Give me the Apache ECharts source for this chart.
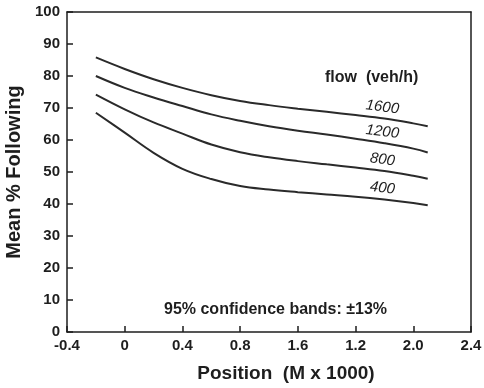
<!DOCTYPE html>
<html>
<head>
<meta charset="utf-8">
<script src="https://cdn.jsdelivr.net/npm/echarts@6/dist/echarts.min.js"></script>
<style>html,body{margin:0;padding:0;background:#fff}#c{width:484px;height:388px}</style>
</head>
<body>
<div id="c"></div>
<script>
const positions = [-0.2, 0, 0.2, 0.4, 0.6, 0.8, 1.0, 1.2, 1.4, 1.6, 1.8, 2.0, 2.1];
const flow1600 = [85.8, 82.2, 79.0, 76.3, 74.0, 72.2, 70.9, 69.8, 68.8, 67.8, 66.7, 65.2, 64.3];
const flow1200 = [80.0, 76.3, 73.3, 70.6, 68.0, 66.0, 64.3, 62.9, 61.7, 60.4, 59.0, 57.3, 56.1];
const flow800  = [74.2, 69.6, 65.5, 62.0, 58.6, 56.2, 54.6, 53.4, 52.4, 51.4, 50.3, 48.8, 47.9];
const flow400  = [68.5, 62.3, 56.0, 51.0, 47.8, 45.6, 44.5, 43.7, 43.0, 42.3, 41.4, 40.3, 39.6];
const seriesNames = ['1600', '1200', '800', '400'];
const xTickLabels = ['-0.4', '0', '0.4', '0.8', '1.6', '1.2', '2.0', '2.4'];
const yTickLabels = ['0', '10', '20', '30', '40', '50', '60', '70', '80', '90', '100'];
const labelAt = 1.8;

const FONT = '"Liberation Sans", Arial, Helvetica, sans-serif';
const INK = '#1e1e1e';

function mk(name, vals) {
  return {
    name: name,
    type: 'line',
    smooth: 0.4,
    symbol: 'circle',
    symbolSize: 1,
    showSymbol: true,
    lineStyle: { color: '#2a2a2a', width: 2 },
    itemStyle: { color: 'rgba(0,0,0,0)', borderWidth: 0 },
    data: positions.map((p, i) => {
      const item = { value: [p, vals[i]] };
      if (p === labelAt) {
        item.label = {
          show: true, position: 'top', distance: 3, rotate: -7, offset: [-3, 0],
          formatter: name, color: INK, fontFamily: FONT,
          fontSize: 15, fontStyle: 'italic'
        };
      }
      return item;
    }),
    z: 3
  };
}

const frameAxis = {
  show: true,
  axisLine: { show: true, onZero: false, lineStyle: { color: INK, width: 1.5 } },
  axisTick: { show: false }, axisLabel: { show: false }, splitLine: { show: false }
};

const chart = echarts.init(document.getElementById('c'));
chart.setOption({
  backgroundColor: '#fff',
  animation: false,
  grid: { left: 67, right: 13, top: 12, bottom: 56, show: false,
          outerBoundsMode: 'none', containLabel: false },
  xAxis: [{
    type: 'value', min: -0.4, max: 2.4, interval: 0.4, position: 'bottom',
    name: 'Position  (M x 1000)', nameLocation: 'middle', nameGap: 32,
    nameTextStyle: { color: INK, fontFamily: FONT, fontSize: 19, fontWeight: 'bold', padding: [0, 0, 0, 34] },
    axisLine: { onZero: false, lineStyle: { color: INK, width: 1.5 } },
    axisTick: { show: true, inside: true, length: 6, lineStyle: { color: INK, width: 1.5 } },
    axisLabel: {
      color: INK, fontFamily: FONT, fontSize: 15, fontWeight: 'bold', margin: 6,
      formatter: v => xTickLabels[Math.round((v + 0.4) / 0.4)] || ''
    },
    splitLine: { show: false }
  }, Object.assign({ type: 'value', min: -0.4, max: 2.4, position: 'top' }, frameAxis)],
  yAxis: [{
    type: 'value', min: 0, max: 100, interval: 10, position: 'left',
    name: 'Mean % Following', nameLocation: 'middle', nameGap: 39, nameRotate: 90,
    nameTextStyle: { color: INK, fontFamily: FONT, fontSize: 20, fontWeight: 'bold' },
    axisLine: { onZero: false, lineStyle: { color: INK, width: 1.5 } },
    axisTick: { show: true, inside: true, length: 6, lineStyle: { color: INK, width: 1.5 } },
    axisLabel: {
      color: INK, fontFamily: FONT, fontSize: 15, fontWeight: 'bold', margin: 7,
      formatter: v => yTickLabels[Math.round(v / 10)] || ''
    },
    splitLine: { show: false }
  }, Object.assign({ type: 'value', min: 0, max: 100, position: 'right' }, frameAxis)],
  graphic: [
    { type: 'text', left: 325, top: 70,
      style: { text: 'flow  (veh/h)', fill: INK, font: 'bold 16px ' + FONT } },
    { type: 'text', left: 164, top: 302,
      style: { text: '95% confidence bands: ±13%', fill: INK, font: 'bold 16px ' + FONT } }
  ],
  series: [mk(seriesNames[0], flow1600), mk(seriesNames[1], flow1200), mk(seriesNames[2], flow800), mk(seriesNames[3], flow400)]
});
</script>
</body>
</html>
